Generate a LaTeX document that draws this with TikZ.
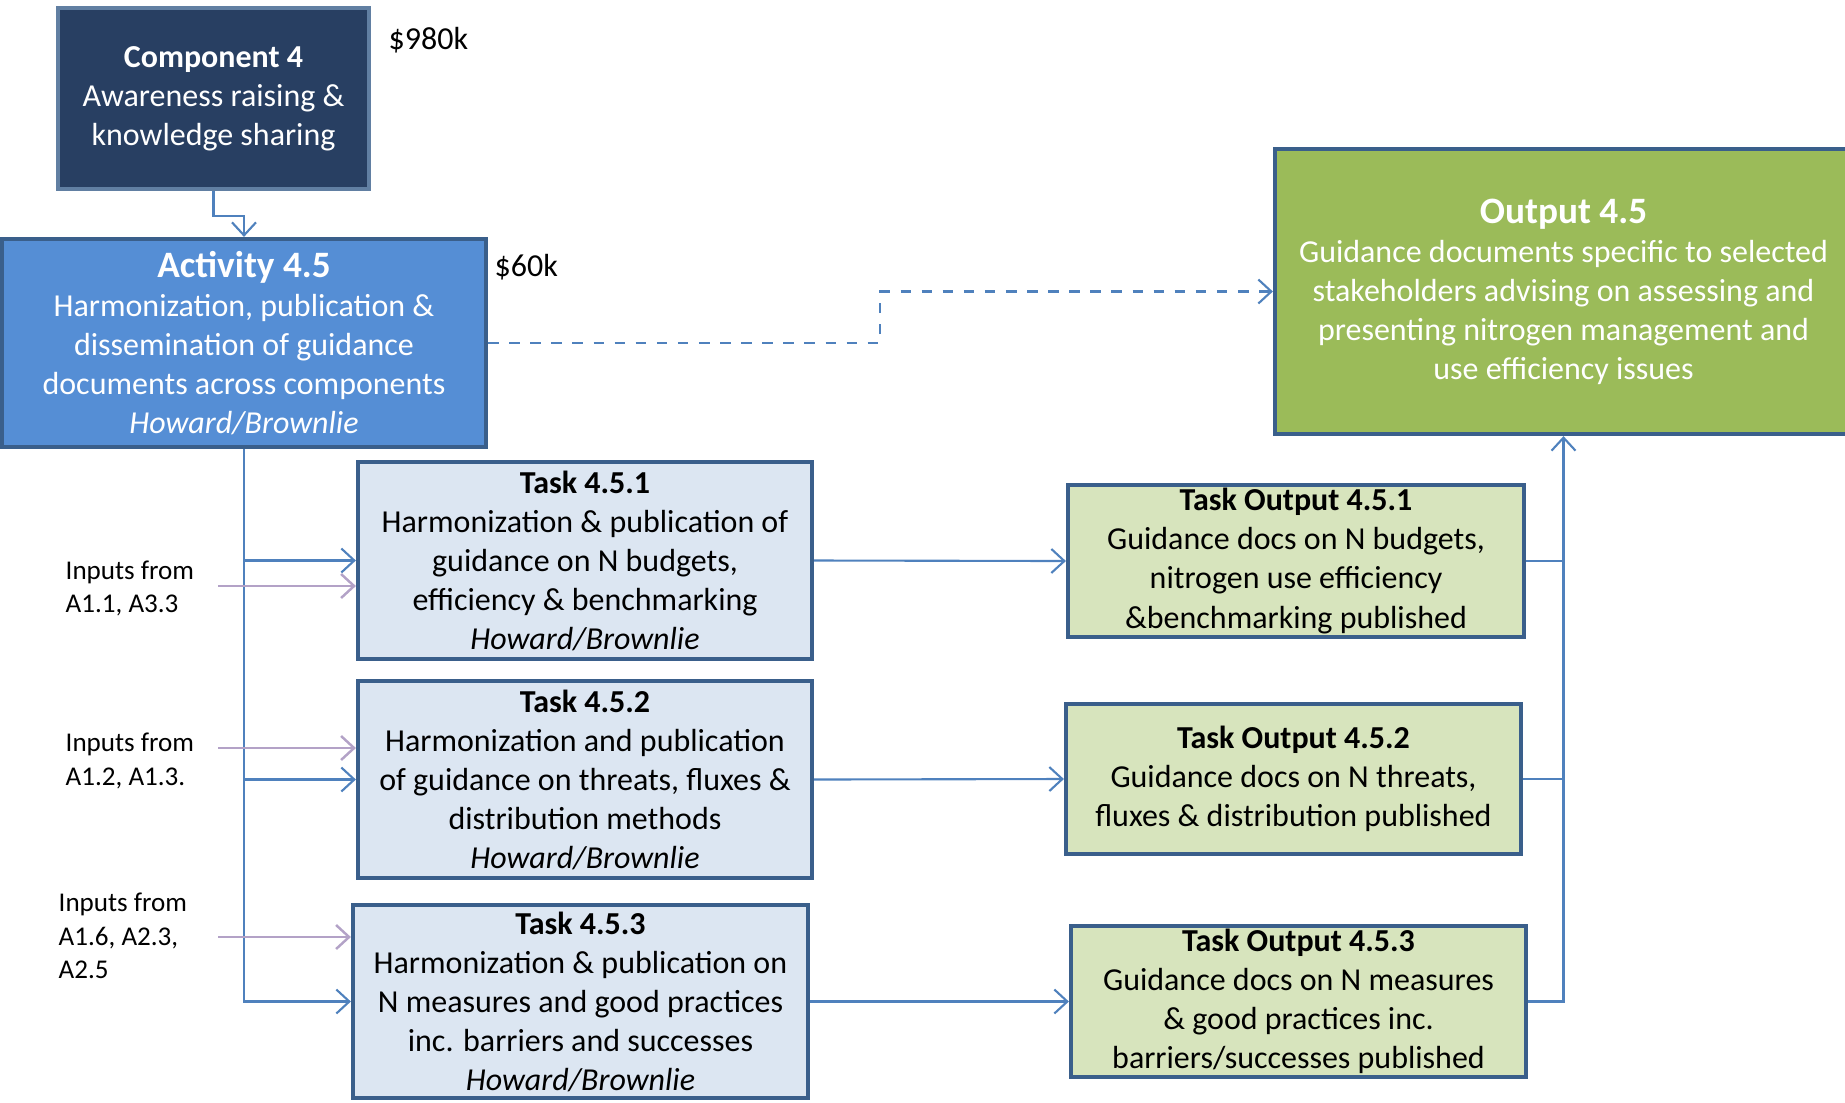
\documentclass[tikz,border=0pt]{standalone}
\usepackage{fontspec}
\setmainfont{Carlito}
\usetikzlibrary{arrows.meta}
\definecolor{compfill}{HTML}{283F62}
\definecolor{actfill}{HTML}{558ED5}
\definecolor{outfill}{HTML}{9BBB59}
\definecolor{taskfill}{HTML}{DCE6F2}
\definecolor{tofill}{HTML}{D7E4BD}
\definecolor{boxline}{HTML}{3A5F8B}
\definecolor{linkblue}{HTML}{4F81BD}
\definecolor{feedpurple}{HTML}{B3A2C7}
\newcommand*{\BodySize}{\fontsize{9.1}{11.1}\selectfont}
\newcommand*{\TitleSize}{\fontsize{10.6}{12.5}\selectfont}
\tikzset{
  box/.style={draw=boxline, line width=1.2pt, align=center, inner sep=0pt,
    font=\BodySize},
  compbox/.style={box, fill=compfill, text=white, draw=boxline!80!white},
  actbox/.style={box, fill=actfill, text=white},
  outbox/.style={box, fill=outfill, text=white},
  taskbox/.style={box, fill=taskfill},
  tobox/.style={box, fill=tofill},
  link/.style={draw=linkblue, line width=0.6pt,
    -{Straight Barb[length=1.3mm,width=2.4mm]}},
  feed/.style={link, draw=feedpurple, line width=0.7pt},
  budget/.style={font=\BodySize, anchor=west, inner sep=0pt},
  inlabel/.style={font=\fontsize{7.7}{9.6}\selectfont, align=left, anchor=west,
    inner sep=0pt}
}

\begin{document}
\begin{tikzpicture}
    \useasboundingbox (0,0) rectangle (18.45,-11.02);

    % top of the tree
    \node [compbox, minimum width=3.11cm, minimum height=1.81cm]
      (comp) at (2.135,-0.985)
      {\textbf{Component 4}\\Awareness raising \&\\knowledge sharing};
    \node [budget] (compcost) at (3.88,-0.40) {\$980k};

    \node [actbox, minimum width=4.84cm, minimum height=2.08cm]
      (act) at (2.44,-3.43)
      {{\TitleSize\textbf{Activity 4.5}}\\Harmonization, publication \&\\
       dissemination of guidance\\documents across components\\
       \textit{Howard/Brownlie}};
    \node [budget] (actcost) at (4.94,-2.67) {\$60k};

    \node [outbox, minimum width=5.77cm, minimum height=2.85cm]
      (out) at (15.635,-2.915)
      {{\TitleSize\textbf{Output 4.5}}\\Guidance documents specific to selected\\
       stakeholders advising on assessing and\\
       presenting nitrogen management and\\use efficiency issues};

    % tasks
    \node [taskbox, minimum width=4.54cm, minimum height=1.97cm]
      (t1) at (5.85,-5.605)
      {\textbf{Task 4.5.1}\\Harmonization \& publication of\\
       guidance on N budgets,\\efficiency \& benchmarking\\
       \textit{Howard/Brownlie}};
    \node [taskbox, minimum width=4.54cm, minimum height=1.97cm]
      (t2) at (5.85,-7.795)
      {\textbf{Task 4.5.2}\\Harmonization and publication\\
       of guidance on threats, fluxes \&\\distribution methods\\
       \textit{Howard/Brownlie}};
    \node [taskbox, minimum width=4.55cm, minimum height=1.93cm]
      (t3) at (5.805,-10.015)
      {\textbf{Task 4.5.3}\\Harmonization \& publication on\\
       N measures and good practices\\inc. barriers and successes\\
       \textit{Howard/Brownlie}};

    % task outputs
    \node [tobox, minimum width=4.56cm, minimum height=1.52cm]
      (to1) at (12.96,-5.61)
      {\textbf{Task Output 4.5.1}\\Guidance docs on N budgets,\\
       nitrogen use efficiency\\\&benchmarking published};
    \node [tobox, minimum width=4.55cm, minimum height=1.50cm]
      (to2) at (12.935,-7.79)
      {\textbf{Task Output 4.5.2}\\Guidance docs on N threats,\\
       fluxes \& distribution published};
    \node [tobox, minimum width=4.55cm, minimum height=1.51cm]
      (to3) at (12.985,-10.015)
      {\textbf{Task Output 4.5.3}\\Guidance docs on N measures\\
       \& good practices inc.\\barriers/successes published};

    % inputs from other activities
    \node [inlabel] (in1) at (0.65,-5.885) {Inputs from\\A1.1, A3.3};
    \node [inlabel] (in2) at (0.65,-7.61) {Inputs from\\A1.2, A1.3.};
    \node [inlabel] (in3) at (0.58,-9.36) {Inputs from\\A1.6, A2.3,\\A2.5};
    \coordinate (feed1) at (2.18,-5.86);
    \coordinate (feed2) at (2.18,-7.48);
    \coordinate (feed3) at (2.18,-9.37);
    \coordinate (bend) at (8.8,0);

    % connectors
    \draw [link] (comp.south) -- ++(0,-0.25) -| (act.north);
    \draw [link, dashed] (act.east) -- (act.east -| bend) |- (out.west);
    \draw [link] (act.south) |- (t1.west);
    \draw [link] (act.south) |- (t2.west);
    \draw [link] (act.south) |- (t3.west);
    \draw [feed] (feed1) -- (feed1 -| t1.west);
    \draw [feed] (feed2) -- (feed2 -| t2.west);
    \draw [feed] (feed3) -- (feed3 -| t3.west);
    \draw [link] (t1.east) -- (to1.west);
    \draw [link] (t2.east) -- (to2.west);
    \draw [link] (t3.east) -- (to3.west);
    \draw [draw=linkblue, line width=0.6pt] (to1.east) -- (to1.east -| out.south);
    \draw [draw=linkblue, line width=0.6pt] (to2.east) -- (to2.east -| out.south);
    \draw [link] (to3.east) -| (out.south);
\end{tikzpicture}
\end{document}
